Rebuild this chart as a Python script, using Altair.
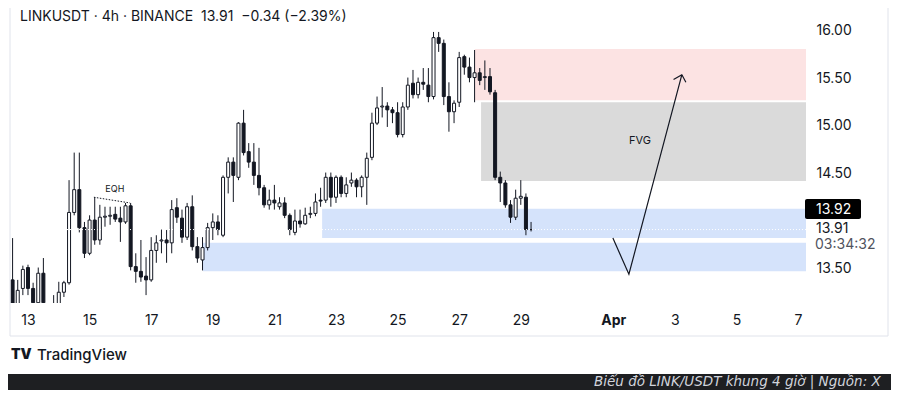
import altair as alt
import pandas as pd

# ---- 4h candles (LINKUSDT) ----
opens = [13.38, 13.12, 13.29, 13.51, 13.29, 13.14, 13.45, 13.11, 13.06, 13.12,
         13.25, 13.35, 14.09, 14.33, 13.93, 13.66, 14.01, 13.80, 14.04, 14.05,
         14.07, 14.03, 13.99, 14.16, 13.52, 13.47, 13.42, 13.38, 13.69, 13.79,
         13.80, 13.77, 14.14, 14.03, 13.83, 14.15, 13.73, 13.59, 13.72, 13.93,
         13.99, 13.85, 14.46, 14.62, 14.46, 15.03, 14.73, 14.62, 14.48, 14.35,
         14.17, 14.22, 14.15, 14.19, 14.06, 13.88, 14.00, 13.97, 14.07, 14.08,
         14.22, 14.22, 14.46, 14.25, 14.46, 14.29, 14.40, 14.43, 14.36, 14.46,
         14.67, 15.03, 15.20, 15.21, 15.17, 15.14, 14.91, 15.20, 15.45, 15.33,
         15.46, 15.43, 15.31, 15.93, 15.87, 15.31, 15.15, 15.25, 15.73, 15.62,
         15.51, 15.56, 15.51, 15.52, 15.35, 14.46, 14.40, 14.17, 14.04, 14.24,
         14.25, 13.91]
highs = [13.82, 13.38, 13.53, 13.54, 13.35, 13.51, 13.61, 13.12, 13.22, 13.36,
         13.37, 14.43, 14.72, 14.72, 13.99, 14.06, 14.25, 14.17, 14.15, 14.15,
         14.15, 14.15, 14.19, 14.19, 13.66, 13.80, 13.62, 13.83, 13.85, 13.91,
         13.91, 14.22, 14.24, 14.12, 14.19, 14.27, 13.83, 13.83, 13.98, 14.08,
         14.06, 14.48, 14.67, 14.67, 15.04, 15.17, 14.82, 14.82, 14.77, 14.38,
         14.33, 14.38, 14.25, 14.25, 14.08, 14.12, 14.12, 14.14, 14.15, 14.29,
         14.35, 14.51, 14.51, 14.48, 14.48, 14.46, 14.51, 14.45, 14.48, 14.72,
         15.14, 15.31, 15.41, 15.25, 15.20, 15.25, 15.25, 15.51, 15.59, 15.51,
         15.61, 15.61, 15.99, 15.99, 15.91, 15.46, 15.27, 15.78, 15.75, 15.72,
         15.80, 15.61, 15.69, 15.61, 15.38, 14.52, 14.43, 14.22, 14.33, 14.43,
         14.29, 13.99]
lows = [13.11, 13.10, 13.22, 13.22, 13.11, 13.11, 13.11, 13.01, 13.04, 13.08,
        13.20, 13.33, 14.06, 13.88, 13.61, 13.64, 13.75, 13.75, 13.94, 13.96,
        13.99, 13.78, 13.97, 13.48, 13.35, 13.36, 13.22, 13.36, 13.56, 13.66,
        13.56, 13.66, 13.98, 13.77, 13.80, 13.69, 13.56, 13.48, 13.69, 13.80,
        13.85, 13.83, 14.29, 14.20, 14.43, 14.69, 14.56, 14.38, 14.27, 14.14,
        14.12, 14.12, 14.12, 14.03, 13.85, 13.85, 13.93, 13.96, 14.03, 14.05,
        14.15, 14.19, 14.15, 14.19, 14.25, 14.25, 14.36, 14.25, 14.25, 14.17,
        14.64, 15.01, 15.09, 14.99, 15.03, 14.88, 14.88, 15.17, 15.29, 15.29,
        15.38, 15.25, 15.28, 15.78, 15.22, 14.94, 15.03, 15.20, 15.54, 15.46,
        15.25, 15.43, 15.38, 15.33, 14.43, 14.20, 14.14, 13.98, 14.01, 14.17,
        13.85, 13.89]
closes = [13.11, 13.27, 13.49, 13.29, 13.14, 13.45, 13.14, 13.06, 13.12, 13.25,
          13.35, 14.09, 14.33, 13.93, 13.66, 14.01, 13.80, 14.04, 14.05, 14.06,
          14.02, 13.99, 14.16, 13.52, 13.47, 13.41, 13.38, 13.69, 13.77, 13.80,
          13.77, 14.12, 14.04, 13.83, 14.15, 13.73, 13.61, 13.72, 13.93, 13.99,
          13.91, 14.46, 14.62, 14.48, 15.03, 14.72, 14.62, 14.48, 14.35, 14.17,
          14.22, 14.19, 14.19, 14.06, 13.91, 14.00, 13.97, 14.06, 14.08, 14.20,
          14.21, 14.46, 14.25, 14.46, 14.29, 14.38, 14.43, 14.36, 14.46, 14.66,
          15.03, 15.19, 15.21, 15.17, 15.14, 14.91, 15.20, 15.43, 15.33, 15.46,
          15.44, 15.31, 15.93, 15.87, 15.31, 15.15, 15.24, 15.72, 15.62, 15.51,
          15.56, 15.48, 15.52, 15.36, 14.46, 14.40, 14.17, 14.04, 14.24, 14.26,
          13.91, 13.91]
first_candle_day = 12.5          # March day of the first candle centre
candle_step = 1 / 6              # 4 hours

# ---- zones (March day / price) ----
zone_x1 = [27.51, 27.71, 22.55, 18.68]
zone_x2 = [38.26, 38.26, 38.26, 38.26]
zone_lo = [15.27, 14.42, 13.82, 13.47]
zone_hi = [15.81, 15.25, 14.13, 13.77]
zone_col = ["#fce3e3", "#dadada", "#d5e3fb", "#d5e3fb"]

# ---- drawn projection path and arrow ----
path_day = [31.99, 32.51, 34.23]
path_price = [13.82, 13.44, 15.54]
barb_day = [33.96, 34.36]
barb_price = [15.49, 15.46]

eqh_day = [15.14, 16.31]
eqh_price = [14.25, 14.19]

labels_text = ["EQH", "FVG"]
labels_day = [15.82, 32.87]
labels_price = [14.34, 14.84]
labels_size = [9, 11]

last_price = [13.91]
x_tick_days = [13, 15, 17, 19, 21, 23, 25, 27, 29, 32, 34, 36, 38]
y_tick_prices = [13.5, 14.5, 15.0, 15.5, 16.0]

title_text = ["LINKUSDT \u00b7 4h \u00b7 BINANCE\u00a0\u00a013.91\u00a0\u00a0\u22120.34 (\u22122.39%)"]
tag_text = ["13.92"]
side_text = ["13.91", "03:34:32"]
brand_text = ["TradingView"]
footer_text = ["Bi\u1ec3u \u0111\u1ed3 LINK/USDT khung 4 gi\u1edd | Ngu\u1ed3n: X"]

FONT = "Inter"
INK = "#131722"
W, H = 796, 295

n = len(opens)
df = pd.DataFrame({
    "t": [first_candle_day + i * candle_step for i in range(n)],
    "o": opens, "h": highs, "l": lows, "c": closes,
})
zones = pd.DataFrame({"x1": zone_x1, "x2": zone_x2, "lo": zone_lo, "hi": zone_hi, "col": zone_col})
path = pd.DataFrame({"d": path_day, "p": path_price, "k": list(range(len(path_day)))})
barbs = pd.DataFrame({"d": [path_day[-1]] * 2, "p": [path_price[-1]] * 2,
                      "d2": barb_day, "p2": barb_price})
eqh = pd.DataFrame({"d": [eqh_day[0]], "d2": [eqh_day[1]], "p": [eqh_price[0]], "p2": [eqh_price[1]]})
labels = pd.DataFrame({"txt": labels_text, "d": labels_day, "p": labels_price, "s": labels_size})
lastp = pd.DataFrame({"p": last_price})
one = pd.DataFrame({"a": [0]})

xs = alt.Scale(domain=[12.416, 38.26], nice=False, zero=False, padding=0)
ys = alt.Scale(domain=[13.1368, 16.2421], nice=False, zero=False, padding=0)

x_axis = alt.Axis(values=x_tick_days, title=None, domain=False, ticks=False, grid=False,
                  labelExpr="datum.value == 32 ? 'Apr' : (datum.value > 31 ? '' + (datum.value - 31) : '' + datum.value)",
                  labelFontWeight={"condition": {"test": "datum.value == 32", "value": "bold"}, "value": "normal"},
                  labelFont=FONT, labelFontSize=14, labelColor=INK, labelPadding=10,
                  labelFlush=False, labelOverlap=False)
y_axis = alt.Axis(orient="right", values=y_tick_prices, format=".2f", title=None, domain=False,
                  ticks=False, grid=False, labelFont=FONT, labelFontSize=14, labelColor=INK,
                  labelPadding=10, labelFlush=False, labelOverlap=False)


def X(f):
    return alt.X(f, scale=xs, axis=x_axis)


def Y(f):
    return alt.Y(f, scale=ys, axis=y_axis)


zone_layer = alt.Chart(zones).mark_rect(clip=True).encode(
    x=X("x1:Q"), x2="x2:Q", y=Y("lo:Q"), y2="hi:Q", color=alt.Color("col:N", scale=None))

wicks = alt.Chart(df).mark_rule(clip=True, color=INK, strokeWidth=1).encode(
    x=X("t:Q"), y=Y("l:Q"), y2="h:Q")

bodies = alt.Chart(df).mark_bar(clip=True, size=3, stroke=INK, strokeWidth=1).encode(
    x=X("t:Q"), y=Y("o:Q"), y2="c:Q",
    fill=alt.condition("datum.c >= datum.o", alt.value("#ffffff"), alt.value(INK)))

price_line = alt.Chart(lastp).mark_rule(color="#ffffff", strokeDash=[1, 2], strokeWidth=1).encode(
    y=Y("p:Q"), x=alt.value(0), x2=alt.value(W))

eqh_line = alt.Chart(eqh).mark_rule(color=INK, strokeDash=[1.5, 1.5], strokeWidth=1).encode(
    x=X("d:Q"), x2="d2:Q", y=Y("p:Q"), y2="p2:Q")

path_line = alt.Chart(path).mark_line(color=INK, strokeWidth=1.2).encode(
    x=X("d:Q"), y=Y("p:Q"), order="k:Q")

barb_lines = alt.Chart(barbs).mark_rule(color=INK, strokeWidth=1.2).encode(
    x=X("d:Q"), x2="d2:Q", y=Y("p:Q"), y2="p2:Q")

label_layer = alt.Chart(labels).mark_text(font=FONT, color=INK).encode(
    x=X("d:Q"), y=Y("p:Q"), text="txt:N", size=alt.Size("s:Q", scale=None, legend=None))

title = alt.Chart(pd.DataFrame({"txt": title_text})).mark_text(
    font=FONT, fontSize=14, color=INK, align="left", baseline="alphabetic").encode(
    text="txt:N", x=alt.value(10), y=alt.value(12.8))

tag_box = alt.Chart(one).mark_rect(color="#000000", cornerRadius=2).encode(
    x=alt.value(795), x2=alt.value(851), y=alt.value(191), y2=alt.value(211))
tag = alt.Chart(pd.DataFrame({"txt": tag_text})).mark_text(
    font=FONT, fontSize=14, color="#ffffff", align="left", baseline="middle").encode(
    text="txt:N", x=alt.value(806), y=alt.value(202))
side1 = alt.Chart(pd.DataFrame({"txt": side_text[:1]})).mark_text(
    font=FONT, fontSize=14, color=INK, align="left", baseline="middle").encode(
    text="txt:N", x=alt.value(806), y=alt.value(221))
side2 = alt.Chart(pd.DataFrame({"txt": side_text[1:]})).mark_text(
    font=FONT, fontSize=14, color="#50535e", align="left", baseline="middle").encode(
    text="txt:N", x=alt.value(805), y=alt.value(237))

border_r = alt.Chart(one).mark_rule(color="#e0e3eb", strokeWidth=1).encode(
    x=alt.value(878), y=alt.value(-8), y2=alt.value(328))
border_l = alt.Chart(one).mark_rule(color="#e0e3eb", strokeWidth=1).encode(
    x=alt.value(0), y=alt.value(-8), y2=alt.value(328))
border_b = alt.Chart(one).mark_rule(color="#e0e3eb", strokeWidth=1).encode(
    x=alt.value(0), x2=alt.value(878), y=alt.value(328))

logo = alt.Chart(pd.DataFrame({"txt": ["TV"]})).mark_text(
    font=FONT, fontSize=14, fontWeight=900, color=INK, align="left", baseline="middle").encode(
    text="txt:N", x=alt.value(1), y=alt.value(347))
brand = alt.Chart(pd.DataFrame({"txt": brand_text})).mark_text(
    font=FONT, fontSize=15, fontWeight=500, color=INK, align="left", baseline="middle").encode(
    text="txt:N", x=alt.value(27), y=alt.value(347))

footer_box = alt.Chart(one).mark_rect(color="#1e1f22").encode(
    x=alt.value(-2), x2=alt.value(889), y=alt.value(366), y2=alt.value(392))
footer = alt.Chart(pd.DataFrame({"txt": footer_text})).mark_text(
    font="DejaVu Sans", fontSize=13.5, fontStyle="italic", color="#d1d4dc", align="left",
    baseline="alphabetic").encode(text="txt:N", x=alt.value(584), y=alt.value(378))

chart = alt.layer(
    zone_layer, wicks, bodies, price_line, eqh_line, path_line, barb_lines, label_layer,
    title, tag_box, tag, side1, side2, border_r, border_l, border_b, logo, brand,
    footer_box, footer,
).properties(
    width=W, height=H,
    autosize=alt.AutoSizeParams(type="none"),
    padding={"left": 2, "top": 0, "right": 85, "bottom": 87},
    background="#ffffff",
).configure_view(stroke=None)

chart.save("out.html", embed_options={"renderer": "svg", "actions": False})
